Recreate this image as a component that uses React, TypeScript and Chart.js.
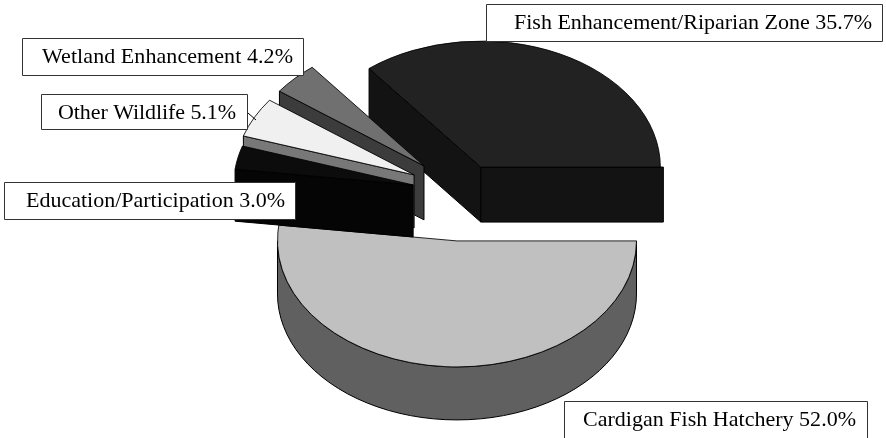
import React, { useEffect, useRef } from "react";
import { Chart, registerables } from "chart.js";

Chart.register(...registerables);

const categories = [
  "Cardigan Fish Hatchery",
  "Education/Participation",
  "Other Wildlife",
  "Wetland Enhancement",
  "Fish Enhancement/Riparian Zone",
];
const shares = [52.0, 3.0, 5.1, 4.2, 35.7];
const shareLabels = ["52.0%", "3.0%", "5.1%", "4.2%", "35.7%"];

const topColors = ["#c0c0c0", "#0c0c0c", "#f0f0f0", "#707070", "#222222"];
const wallColors = ["#606060", "#050505", "#787878", "#3c3c3c", "#131313"];
const explodeX = [48, 48, 51.6, 50, 48];
const explodeY = [46, 46, 44, 42, 31];
const depths = [53, 52, 53, 54, 55];
const wallFlare = [0, 0, 0, 0, 3];
const labelBoxes = [
  { x: 564.5, y: 401.5, w: 303, h: 50, tx: 583, tw: 273, by: 426 },
  { x: 4.5, y: 182.5, w: 291, h: 37, tx: 26, tw: 259, by: 207 },
  { x: 41.5, y: 94.5, w: 206, h: 35, tx: 58, tw: 178, by: 119 },
  { x: 22.5, y: 38.5, w: 281, h: 37, tx: 42, tw: 251, by: 63 },
  { x: 486.5, y: 4.5, w: 396, h: 37, tx: 514, tw: 358, by: 29 },
];
const SQUASH = 0.702;

const pie3d = {
  id: "pie3d",
  beforeDatasetsDraw(chart: any) {
    const ctx = chart.ctx as CanvasRenderingContext2D;
    const arcs = chart.getDatasetMeta(0).data;
    const order = [0, 4, 3, 2, 1];
    ctx.lineWidth = 1;
    ctx.lineJoin = "round";
    for (const i of order) {
      const el = arcs[i];
      const { x, y, startAngle, endAngle, outerRadius: r } = el;
      const mid = (startAngle + endAngle) / 2;
      const ax = x + Math.cos(mid) * explodeX[i];
      const ay = y + Math.sin(mid) * explodeY[i];
      const d = depths[i];
      const px = (t: number) => ax + r * Math.cos(t);
      const py = (t: number) => ay + r * SQUASH * Math.sin(t);
      const fillPath = (pts: number[][]) => {
        ctx.beginPath();
        pts.forEach((p, k) => (k ? ctx.lineTo(p[0], p[1]) : ctx.moveTo(p[0], p[1])));
        ctx.closePath();
        ctx.fillStyle = wallColors[i];
        ctx.strokeStyle = "#000";
        ctx.fill();
        ctx.stroke();
      };
      const radial = (t: number, flare: number) =>
        fillPath([
          [ax, ay],
          [px(t) + flare, py(t)],
          [px(t) + flare, py(t) + d],
          [ax, ay + d],
        ]);
      if (Math.cos(startAngle) < 0) radial(startAngle, 0);
      if (Math.cos(endAngle) > 0) radial(endAngle, wallFlare[i]);
      // outer rim: only the part of the arc that faces the viewer
      const lo = Math.max(startAngle, 0);
      const hi = Math.min(endAngle, Math.PI);
      if (hi > lo) {
        const top: number[][] = [];
        const bottom: number[][] = [];
        const steps = 48;
        for (let k = 0; k <= steps; k++) {
          const t = lo + ((hi - lo) * k) / steps;
          top.push([px(t), py(t)]);
          bottom.unshift([px(t), py(t) + d]);
        }
        fillPath(top.concat(bottom));
      }
      ctx.save();
      ctx.translate(ax, ay);
      ctx.scale(1, SQUASH);
      ctx.translate(-x, -y);
      el.draw(ctx);
      ctx.restore();
    }
    return false;
  },
  afterDraw(chart: any) {
    const ctx = chart.ctx as CanvasRenderingContext2D;
    ctx.save();
    // leader line of the Other Wildlife label
    ctx.strokeStyle = "#000";
    ctx.lineWidth = 1;
    ctx.beginPath();
    ctx.moveTo(248, 113);
    ctx.lineTo(256, 120);
    ctx.stroke();
    ctx.font = '22px "Liberation Serif"';
    ctx.textBaseline = "alphabetic";
    ctx.textAlign = "left";
    categories.forEach((name, i) => {
      const b = labelBoxes[i];
      ctx.fillStyle = "#fff";
      ctx.strokeStyle = "#333";
      ctx.fillRect(b.x, b.y, b.w, b.h);
      ctx.strokeRect(b.x, b.y, b.w, b.h);
      const text = `${name} ${shareLabels[i]}`;
      (ctx as any).letterSpacing = "0px";
      const natural = ctx.measureText(text).width;
      (ctx as any).letterSpacing = `${(b.tw - natural) / (text.length - 1)}px`;
      ctx.fillStyle = "#000";
      ctx.fillText(text, b.tx, b.by);
    });
    ctx.restore();
  },
};

export default function App() {
  const ref = useRef<HTMLCanvasElement>(null);
  useEffect(() => {
    const chart = new Chart(ref.current as HTMLCanvasElement, {
      type: "pie",
      data: {
        labels: categories,
        datasets: [
          {
            data: shares,
            backgroundColor: topColors,
            borderColor: "#000",
            borderWidth: 1,
            radius: 179.5,
          } as any,
        ],
      },
      options: {
        responsive: false,
        animation: false,
        rotation: 90,
        layout: { padding: { left: 34, bottom: 48 } },
        plugins: { legend: { display: false }, tooltip: { enabled: false } },
      },
      plugins: [pie3d as any],
    });
    return () => chart.destroy();
  }, []);
  return (
    <div style={{ position: "fixed", left: 0, top: 0, width: 886, height: 438, background: "#fff" }}>
      <canvas ref={ref} width={886} height={438} style={{ display: "block" }} />
    </div>
  );
}
